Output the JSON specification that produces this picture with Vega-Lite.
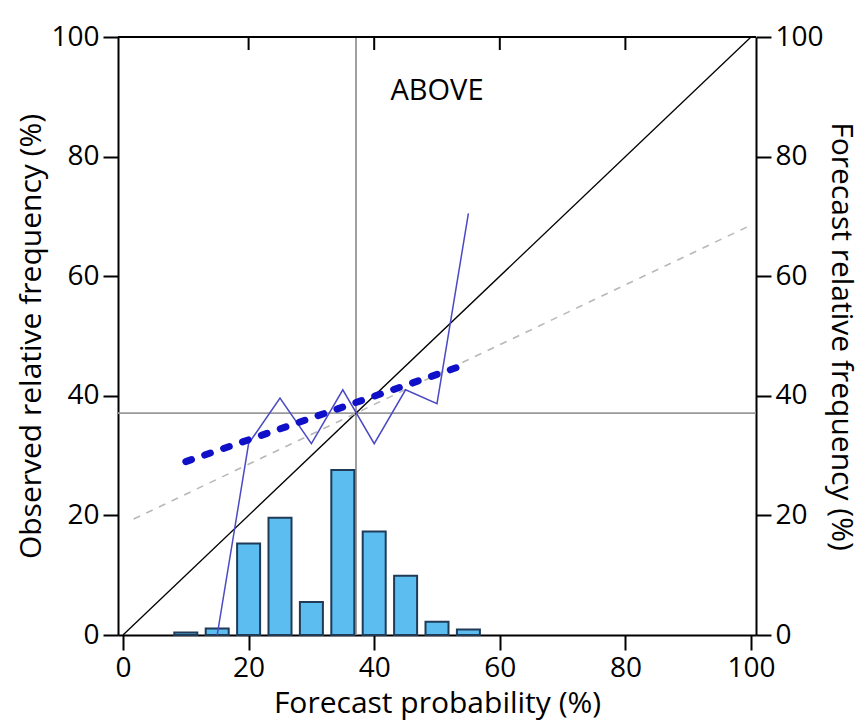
{
  "$schema": "https://vega.github.io/schema/vega-lite/v6.json",
  "autosize": "none",
  "padding": {"left": 118, "top": 37, "right": 107, "bottom": 92},
  "width": 638,
  "height": 598,
  "background": "white",
  "config": {
    "view": {"stroke": null},
    "font": "Open Sans",
    "axis": {
      "grid": false,
      "domainColor": "black",
      "domainWidth": 2,
      "tickColor": "black",
      "tickWidth": 2,
      "tickSize": 15,
      "labelFont": "Open Sans",
      "labelFontSize": 28,
      "labelColor": "black",
      "labelPadding": 4,
      "titleFont": "Open Sans",
      "titleFontSize": 30,
      "titleFontWeight": "normal",
      "titleColor": "black"
    }
  },
  "datasets": {
    "hist": [
      {"p": 10, "freq": 0.4},
      {"p": 15, "freq": 1.1},
      {"p": 20, "freq": 15.3},
      {"p": 25, "freq": 19.6},
      {"p": 30, "freq": 5.5},
      {"p": 35, "freq": 27.6},
      {"p": 40, "freq": 17.3},
      {"p": 45, "freq": 9.9},
      {"p": 50, "freq": 2.2},
      {"p": 55, "freq": 0.9}
    ],
    "reliability": [
      {"p": 15, "obs": 0},
      {"p": 20, "obs": 32},
      {"p": 25, "obs": 39.6},
      {"p": 30, "obs": 32},
      {"p": 35, "obs": 41},
      {"p": 40, "obs": 32},
      {"p": 45, "obs": 41},
      {"p": 50, "obs": 38.7},
      {"p": 55, "obs": 70.5}
    ],
    "regression": [
      {"p": 10, "obs": 29},
      {"p": 55, "obs": 45.4}
    ],
    "diagonal": [
      {"p": 0, "obs": 0},
      {"p": 100, "obs": 100}
    ],
    "noskill": [
      {"p": 1.7, "obs": 19.4},
      {"p": 100, "obs": 68.55}
    ],
    "topticks": [
      {"p": 20, "obs": 100},
      {"p": 40, "obs": 100},
      {"p": 60, "obs": 100},
      {"p": 80, "obs": 100}
    ],
    "label": [
      {"p": 50, "obs": 91, "text": "ABOVE"}
    ]
  },
  "layer": [
    {
      "data": {"name": "diagonal"},
      "mark": {"type": "rule", "color": "#999999", "strokeWidth": 1.5},
      "encoding": {
        "x": {"datum": 37.1, "type": "quantitative", "scale": {"domain": [0, 100], "nice": false}, "axis": null}
      }
    },
    {
      "data": {"name": "diagonal"},
      "mark": {"type": "rule", "color": "#999999", "strokeWidth": 1.5},
      "encoding": {
        "y": {"datum": 37.1, "type": "quantitative", "scale": {"domain": [0, 100], "nice": false}, "axis": null}
      }
    },
    {
      "data": {"name": "diagonal"},
      "mark": {"type": "rule", "color": "black", "strokeWidth": 2},
      "encoding": {
        "y": {"datum": 100, "type": "quantitative", "scale": {"domain": [0, 100], "nice": false}, "axis": null}
      }
    },
    {
      "data": {"name": "hist"},
      "mark": {"type": "bar", "width": 23, "fill": "#5cbdf0", "stroke": "#1f3b57", "strokeWidth": 2},
      "encoding": {
        "x": {"field": "p", "type": "quantitative", "scale": {"domain": [0, 100], "nice": false}, "axis": {"orient": "bottom", "values": [0, 20, 40, 60, 80, 100], "title": "Forecast probability (%)", "titlePadding": 6}},
        "y": {"field": "freq", "type": "quantitative", "scale": {"domain": [0, 100], "nice": false}, "axis": {"orient": "right", "values": [0, 20, 40, 60, 80, 100], "title": "Forecast relative frequency (%)", "titlePadding": 2}}
      }
    },
    {
      "data": {"name": "diagonal"},
      "mark": {"type": "line", "color": "black", "strokeWidth": 1.3},
      "encoding": {
        "x": {"field": "p", "type": "quantitative", "axis": null},
        "y": {"field": "obs", "type": "quantitative", "scale": {"domain": [0, 100], "nice": false}, "axis": {"orient": "left", "values": [0, 20, 40, 60, 80, 100], "title": "Observed relative frequency (%)", "titlePadding": 4}}
      }
    },
    {
      "data": {"name": "topticks"},
      "mark": {"type": "tick", "color": "black", "thickness": 2, "size": 13, "yOffset": 6.5, "orient": "vertical", "opacity": 1},
      "encoding": {
        "x": {"field": "p", "type": "quantitative", "axis": null},
        "y": {"field": "obs", "type": "quantitative", "scale": {"domain": [0, 100], "nice": false}, "axis": null}
      }
    },
    {
      "data": {"name": "noskill"},
      "mark": {"type": "line", "color": "#b8b8b8", "strokeWidth": 1.6, "strokeDash": [7, 7]},
      "encoding": {
        "x": {"field": "p", "type": "quantitative", "axis": null},
        "y": {"field": "obs", "type": "quantitative", "scale": {"domain": [0, 100], "nice": false}, "axis": null}
      }
    },
    {
      "data": {"name": "reliability"},
      "mark": {"type": "line", "color": "#4a4ac4", "strokeWidth": 1.5},
      "encoding": {
        "x": {"field": "p", "type": "quantitative", "axis": null},
        "y": {"field": "obs", "type": "quantitative", "scale": {"domain": [0, 100], "nice": false}, "axis": null}
      }
    },
    {
      "data": {"name": "regression"},
      "mark": {"type": "line", "color": "#1010c8", "strokeWidth": 7, "strokeDash": [6, 14], "strokeCap": "round"},
      "encoding": {
        "x": {"field": "p", "type": "quantitative", "axis": null},
        "y": {"field": "obs", "type": "quantitative", "scale": {"domain": [0, 100], "nice": false}, "axis": null}
      }
    },
    {
      "data": {"name": "label"},
      "mark": {"type": "text", "font": "Open Sans", "fontSize": 29, "color": "black", "letterSpacing": -1.5},
      "encoding": {
        "x": {"field": "p", "type": "quantitative", "axis": null},
        "y": {"field": "obs", "type": "quantitative", "scale": {"domain": [0, 100], "nice": false}, "axis": null},
        "text": {"field": "text"}
      }
    }
  ],
  "resolve": {"scale": {"y": "independent"}, "axis": {"x": "independent", "y": "independent"}}
}
